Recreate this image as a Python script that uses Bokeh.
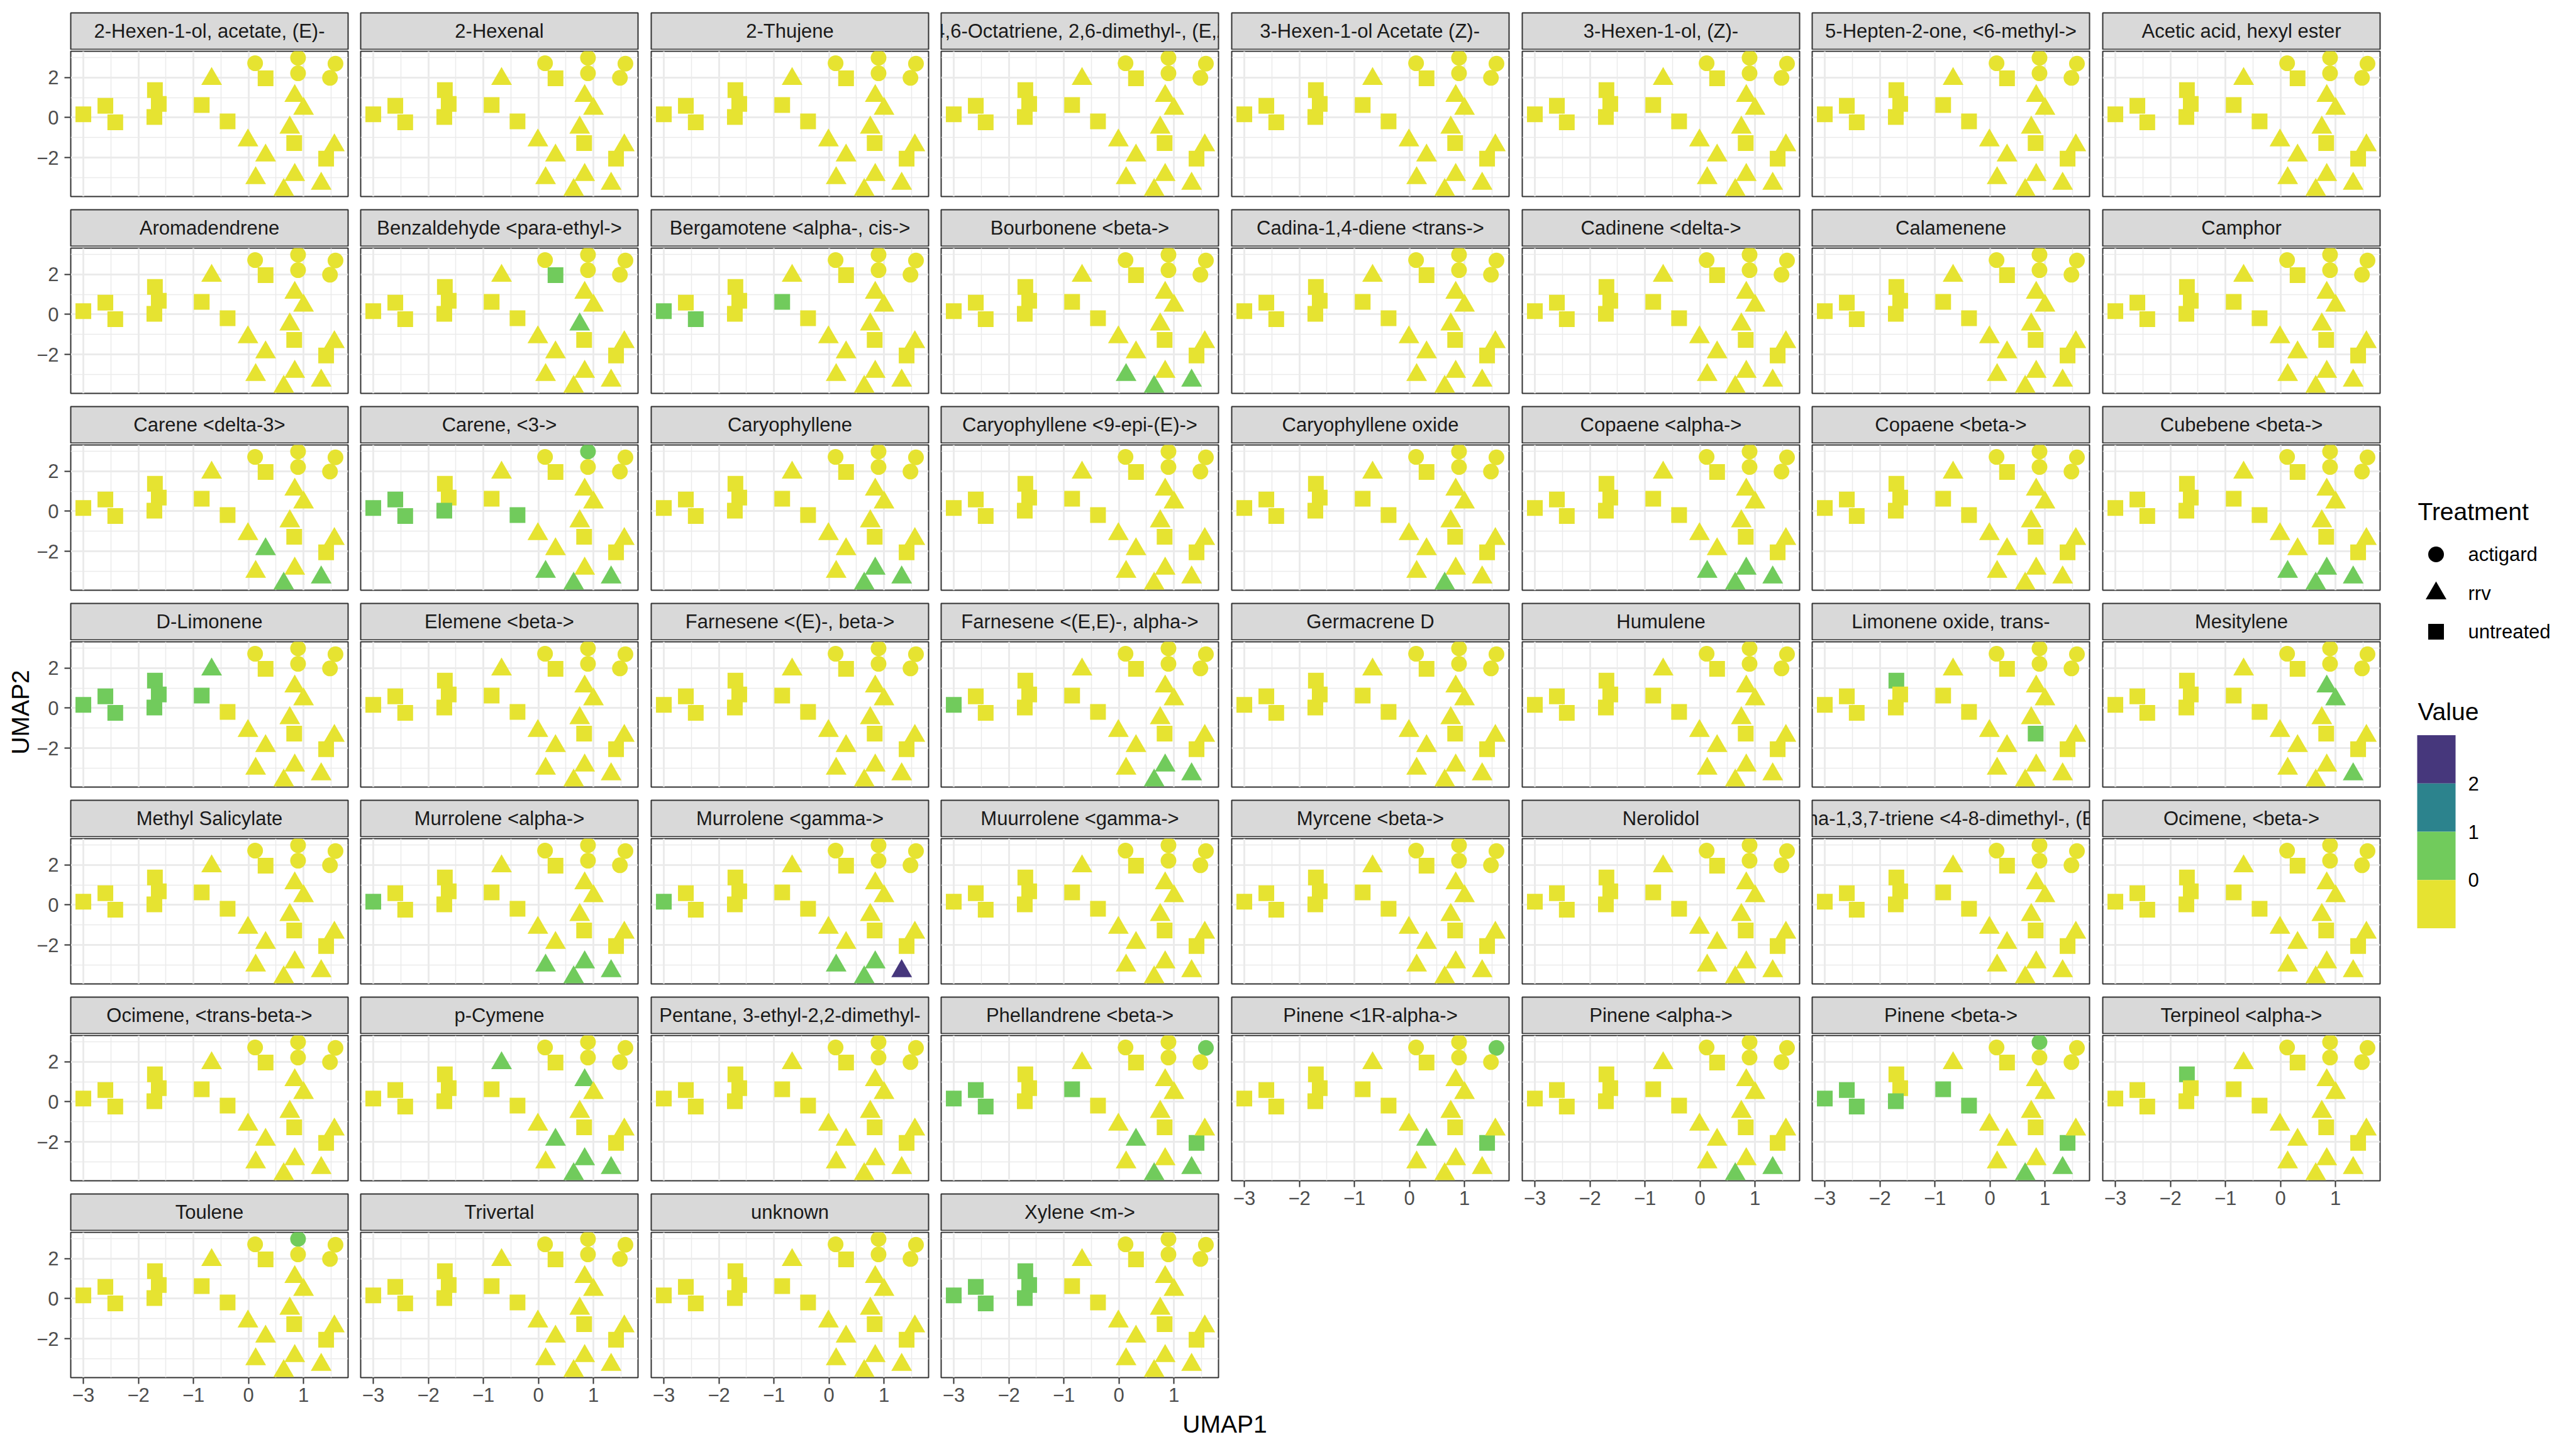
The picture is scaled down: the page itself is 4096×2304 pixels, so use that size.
import numpy as np
from bokeh.plotting import figure
from bokeh.layouts import column, row
from bokeh.models import Range1d, Spacer, FixedTicker, ColumnDataSource
from bokeh.embed import file_html
from bokeh.resources import INLINE
from bokeh.core.properties import value

# ---------------- data ----------------
point_id = ["S1", "S2", "S3", "S4", "S5", "S6", "S7", "S8", "S9", "S10", "S11",
            "C1", "C2", "C3", "C4", "C5",
            "T1", "T2", "T3", "T4", "T5", "T6", "T7", "T8", "T9", "T10", "T11"]
treatment = ["untreated"] * 11 + ["actigard"] * 5 + ["rrv"] * 11
umap1 = [-3.00, -2.60, -2.42, -1.70, -1.63, -1.71, -0.85, -0.38, 0.31, 0.83, 1.41,
         0.12, 0.90, 0.90, 1.58, 1.48,
         -0.67, 0.84, 1.00, 0.75, -0.01, 0.31, 1.56, 0.13, 0.84, 1.32, 0.64]
umap2 = [0.16, 0.59, -0.24, 1.37, 0.68, 0.03, 0.63, -0.19, 1.96, -1.27, -2.05,
         2.71, 2.98, 2.21, 2.69, 1.98,
         1.93, 1.08, 0.44, -0.50, -1.14, -1.89, -1.38, -3.02, -2.86, -3.30, -3.61]

compounds = [
    "2-Hexen-1-ol, acetate, (E)-", "2-Hexenal", "2-Thujene",
    "2,4,6-Octatriene, 2,6-dimethyl-, (E,Z)-", "3-Hexen-1-ol Acetate (Z)-",
    "3-Hexen-1-ol, (Z)-", "5-Hepten-2-one, <6-methyl->", "Acetic acid, hexyl ester",
    "Aromadendrene", "Benzaldehyde <para-ethyl->", "Bergamotene <alpha-, cis->",
    "Bourbonene <beta->", "Cadina-1,4-diene <trans->", "Cadinene <delta->",
    "Calamenene", "Camphor",
    "Carene <delta-3>", "Carene, <3->", "Caryophyllene", "Caryophyllene <9-epi-(E)->",
    "Caryophyllene oxide", "Copaene <alpha->", "Copaene <beta->", "Cubebene <beta->",
    "D-Limonene", "Elemene <beta->", "Farnesene <(E)-, beta->", "Farnesene <(E,E)-, alpha->",
    "Germacrene D", "Humulene", "Limonene oxide, trans-", "Mesitylene",
    "Methyl Salicylate", "Murrolene <alpha->", "Murrolene <gamma->", "Muurrolene <gamma->",
    "Myrcene <beta->", "Nerolidol", "Nona-1,3,7-triene <4-8-dimethyl-, (E)->", "Ocimene, <beta->",
    "Ocimene, <trans-beta->", "p-Cymene", "Pentane, 3-ethyl-2,2-dimethyl-", "Phellandrene <beta->",
    "Pinene <1R-alpha->", "Pinene <alpha->", "Pinene <beta->", "Terpineol <alpha->",
    "Toulene", "Trivertal", "unknown", "Xylene <m->",
]

# non-zero values per compound (all other points are 0)
nonzero = {
    "Benzaldehyde <para-ethyl->": {"S9": 1, "T4": 1},
    "Bergamotene <alpha-, cis->": {"S1": 1, "S3": 1, "S7": 1},
    "Bourbonene <beta->": {"T8": 1, "T10": 1, "T11": 1},
    "Carene <delta-3>": {"T6": 1, "T10": 1, "T11": 1},
    "Carene, <3->": {"C2": 1, "S1": 1, "S2": 1, "S3": 1, "S6": 1, "S8": 1,
                     "T8": 1, "T10": 1, "T11": 1},
    "Caryophyllene": {"T9": 1, "T10": 1, "T11": 1},
    "Caryophyllene oxide": {"T11": 1},
    "Copaene <alpha->": {"T8": 1, "T9": 1, "T10": 1, "T11": 1},
    "Cubebene <beta->": {"T8": 1, "T9": 1, "T10": 1, "T11": 1},
    "D-Limonene": {"S1": 1, "S2": 1, "S3": 1, "S4": 1, "S5": 1, "S6": 1, "S7": 1, "T1": 1},
    "Farnesene <(E,E)-, alpha->": {"S1": 1, "T9": 1, "T10": 1, "T11": 1},
    "Limonene oxide, trans-": {"S4": 1, "S10": 1},
    "Mesitylene": {"T2": 1, "T3": 1, "T10": 1},
    "Murrolene <alpha->": {"S1": 1, "T8": 1, "T9": 1, "T10": 1, "T11": 1},
    "Murrolene <gamma->": {"S1": 1, "T8": 1, "T9": 1, "T10": 3, "T11": 1},
    "p-Cymene": {"T1": 1, "T2": 1, "T6": 1, "T9": 1, "T10": 1, "T11": 1},
    "Phellandrene <beta->": {"C4": 1, "S1": 1, "S2": 1, "S3": 1, "S7": 1, "S11": 1,
                             "T6": 1, "T10": 1, "T11": 1},
    "Pinene <1R-alpha->": {"C4": 1, "S11": 1, "T6": 1},
    "Pinene <alpha->": {"T10": 1, "T11": 1},
    "Pinene <beta->": {"C2": 1, "S1": 1, "S2": 1, "S3": 1, "S6": 1, "S7": 1, "S8": 1,
                       "S11": 1, "T10": 1, "T11": 1},
    "Terpineol <alpha->": {"S4": 1},
    "Toulene": {"C2": 1},
    "Xylene <m->": {"S1": 1, "S2": 1, "S3": 1, "S4": 1, "S5": 1, "S6": 1},
}

value_breaks = [0, 1, 2]
value_colors = ["#E6E331", "#71CB5C", "#2C838D", "#46377C"]   # bins: <=0, (0,1], (1,2], >2
treatment_levels = ["actigard", "rrv", "untreated"]
treatment_markers = ["circle", "triangle", "square"]
treatment_sizes = [25, 33, 25]

x_major = [-3, -2, -1, 0, 1]
x_minor = [-2.5, -1.5, -0.5, 0.5, 1.5]
y_major = [-2, 0, 2]
y_minor = [-3, -1, 1, 3]

# ---------------- layout constants (px) ----------------
FW, FH, SH = 441, 231, 58
col_left = [112, 573, 1035, 1496, 1958, 2420, 2881, 3343]
YL_W = 54
AX_L = col_left[0] - YL_W
TOP, ROW_GAP, AX_B = 18, 17, 51
PAGE_H = 2304
FONT = "Liberation Sans"

# scales shared by all panels (ggplot-like 5% expansion)
x0, x1 = min(umap1), max(umap1)
y0, y1 = min(umap2), max(umap2)
dx, dy = x1 - x0, y1 - y0
xr = Range1d(x0 - 0.05 * dx, x1 + 0.05 * dx)
yr = Range1d(y0 - 0.05 * dy, y1 + 0.05 * dy)

marker_of = dict(zip(treatment_levels, treatment_markers))
size_of = dict(zip(treatment_levels, treatment_sizes))


def color_for(v):
    return value_colors[int(np.searchsorted(value_breaks, v, side="left"))]


def make_strip(name, first_col):
    s = figure(frame_width=FW, frame_height=SH, x_range=Range1d(0, 1), y_range=Range1d(0, 1),
               output_backend="svg", toolbar_location=None,
               x_axis_location=None, y_axis_location=None,
               min_border_left=AX_L if first_col else 2, min_border_right=2,
               min_border_top=2, min_border_bottom=1,
               background_fill_color="#D9D9D9", border_fill_color="white",
               outline_line_color="#333333", outline_line_width=2)
    s.grid.visible = False
    s.text(x=[0.5], y=[0.5], text=[name], text_align="center", text_baseline="middle",
           text_font=value(FONT), text_font_size="31px", text_color="#1A1A1A")
    return s


def make_panel(name, first_col, bottom):
    p = figure(frame_width=FW, frame_height=FH, x_range=xr, y_range=yr,
               output_backend="svg", toolbar_location=None,
               x_axis_location="below" if bottom else None,
               y_axis_location="left" if first_col else None,
               min_border_left=AX_L if first_col else 2, min_border_right=2,
               min_border_top=2, min_border_bottom=AX_B if bottom else 2,
               background_fill_color="white", border_fill_color="white",
               outline_line_color="#333333", outline_line_width=2)
    p.xgrid.ticker = FixedTicker(ticks=x_major, minor_ticks=x_minor)
    p.ygrid.ticker = FixedTicker(ticks=y_major, minor_ticks=y_minor)
    p.grid.grid_line_color = "#EBEBEB"
    p.grid.grid_line_width = 3
    p.grid.minor_grid_line_color = "#EBEBEB"
    p.grid.minor_grid_line_width = 1.5
    for ax, ticks in ((p.xaxis, x_major), (p.yaxis, y_major)):
        if len(ax) == 0:
            continue
        ax.ticker = FixedTicker(ticks=ticks)
        ax.axis_line_color = None
        ax.major_tick_line_color = "#333333"
        ax.major_tick_line_width = 2
        ax.major_tick_out = 10
        ax.major_tick_in = 0
        ax.minor_tick_line_color = None
        ax.major_label_text_font = FONT
        ax.major_label_text_font_size = "31px"
        ax.major_label_text_color = "#4D4D4D"
    if bottom:
        p.xaxis.major_label_standoff = 6
    if first_col:
        p.yaxis.major_label_standoff = 9

    vals = nonzero.get(name, {})
    src = ColumnDataSource(dict(
        x=umap1, y=umap2,
        marker=[marker_of[t] for t in treatment],
        size=[size_of[t] for t in treatment],
        color=[color_for(vals.get(pid, 0)) for pid in point_id],
    ))
    p.scatter(x="x", y="y", marker="marker", size="size", fill_color="color",
              line_color=None, source=src)
    return p


# ---------------- facet grid ----------------
cols = []
for c in range(8):
    nrows = 7 if c < 4 else 6
    items = [Spacer(width=1, height=TOP)]
    for r in range(nrows):
        name = compounds[r * 8 + c]
        if r > 0:
            items.append(Spacer(width=1, height=ROW_GAP))
        items.append(make_strip(name, c == 0))
        items.append(make_panel(name, c == 0, r == nrows - 1))
    if c >= 4:
        items.append(Spacer(width=1, height=313))
    cols.append(column(*items))

row_items = []
prev_right = YL_W
for c in range(8):
    canvas_left = YL_W if c == 0 else col_left[c] - 2
    if c > 0:
        row_items.append(Spacer(width=canvas_left - prev_right, height=1))
    row_items.append(cols[c])
    prev_right = col_left[c] + FW + 2

grid_h = TOP + 7 * (SH + 3 + FH + 4) + 6 * ROW_GAP + (AX_B - 2)
XL_H = PAGE_H - grid_h
XL_W = prev_right - YL_W

# x axis title
xl = figure(width=XL_W, height=XL_H, x_range=Range1d(YL_W, prev_right), y_range=Range1d(PAGE_H, grid_h),
            output_backend="svg", toolbar_location=None, x_axis_location=None, y_axis_location=None,
            min_border=0, outline_line_color=None)
xl.grid.visible = False
xl.text(x=[1947], y=[2264], text=["UMAP1"], text_align="center", text_baseline="middle",
        text_font=value(FONT), text_font_size="39px", text_color="black")

# y axis title
yl = figure(width=YL_W, height=PAGE_H, x_range=Range1d(0, YL_W), y_range=Range1d(PAGE_H, 0),
            output_backend="svg", toolbar_location=None, x_axis_location=None, y_axis_location=None,
            min_border=0, outline_line_color=None)
yl.grid.visible = False
yl.text(x=[32], y=[1132], text=["UMAP2"], angle=np.pi / 2, text_align="center",
        text_baseline="middle", text_font=value(FONT), text_font_size="39px", text_color="black")

# legends
LG_W = 4096 - prev_right
lg = figure(width=LG_W, height=PAGE_H, x_range=Range1d(prev_right, 4096), y_range=Range1d(PAGE_H, 0),
            output_backend="svg", toolbar_location=None, x_axis_location=None, y_axis_location=None,
            min_border=0, outline_line_color=None)
lg.grid.visible = False
lg.text(x=[3844], y=[813], text=["Treatment"], text_align="left", text_baseline="middle",
        text_font=value(FONT), text_font_size="39px", text_color="black")
key_y = [881, 943, 1004]
lg.scatter(x=[3873] * 3, y=key_y, marker=treatment_markers, size=treatment_sizes,
           fill_color="black", line_color=None)
lg.text(x=[3924] * 3, y=key_y, text=treatment_levels, text_align="left", text_baseline="middle",
        text_font=value(FONT), text_font_size="31px", text_color="black")
lg.text(x=[3844], y=[1131], text=["Value"], text_align="left", text_baseline="middle",
        text_font=value(FONT), text_font_size="39px", text_color="black")
bar_top, bin_h = 1168.6, 76.7
tops = [bar_top + i * bin_h for i in range(4)]
lg.quad(left=3843, right=3904, top=tops, bottom=[t + bin_h for t in tops],
        fill_color=value_colors[::-1], line_color=None)
lg.text(x=[3924] * 3, y=[bar_top + (i + 1) * bin_h for i in range(3)],
        text=[str(b) for b in value_breaks[::-1]], text_align="left", text_baseline="middle",
        text_font=value(FONT), text_font_size="31px", text_color="black")

page = row(yl, column(row(*row_items), xl), lg)

open("out.html", "w").write(file_html(page, INLINE))
